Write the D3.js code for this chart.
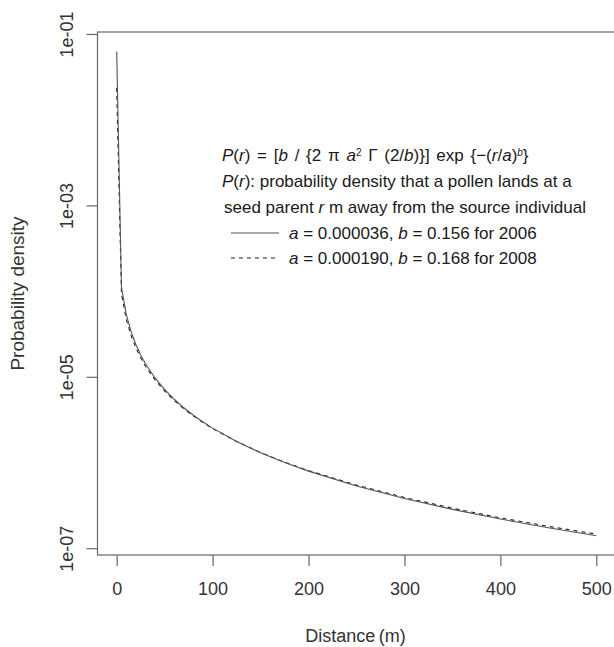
<!DOCTYPE html>
<html lang="en">
<head>
  <meta charset="UTF-8">
  <title>Pollen dispersal kernel</title>
  <script src="https://d3js.org/d3.v7.min.js"></script>
  <style>
    body { margin: 0; background: white; }
    text { font-family: 'Liberation Sans', Arial, sans-serif; fill: #333; }
    .legend text { fill: #1a1a1a; }
  </style>
</head>
<body>
  <svg width="614" height="647"></svg>

  <script>
    // Data (distance in m, probability density)
    const distance = [0, 5, 10, 15, 20, 25, 30, 40, 50, 60, 70, 80, 90, 100,
                      125, 150, 175, 200, 250, 300, 350, 400, 450, 500];
    const dens2006 = [6.26e-2, 1.10e-4, 5.34e-5, 3.37e-5, 2.38e-5, 1.80e-5, 1.42e-5, 9.70e-6,
                      7.11e-6, 5.47e-6, 4.35e-6, 3.56e-6, 2.97e-6, 2.52e-6,
                      1.76e-6, 1.30e-6, 1.00e-6, 7.94e-7, 5.32e-7, 3.80e-7, 2.84e-7, 2.19e-7, 1.73e-7, 1.40e-7];
    const dens2008 = [2.34e-2, 9.29e-5, 4.69e-5, 3.03e-5, 2.18e-5, 1.67e-5, 1.33e-5, 9.19e-6,
                      6.81e-6, 5.29e-6, 4.24e-6, 3.49e-6, 2.92e-6, 2.49e-6,
                      1.76e-6, 1.31e-6, 1.01e-6, 8.05e-7, 5.45e-7, 3.91e-7, 2.93e-7, 2.26e-7, 1.80e-7, 1.46e-7];
    const xTicks = [0, 100, 200, 300, 400, 500];
    const yTicks = [1e-1, 1e-3, 1e-5, 1e-7];
    const yTickLabels = ["1e-01", "1e-03", "1e-05", "1e-07"];

    const svg = d3.select("svg");

    // plot region (box right edge runs just off the picture)
    const pLeft = 97.5, pRight = 615.5, pTop = 32, pBottom = 555;

    const x = d3.scaleLinear().domain([-20, 520]).range([pLeft, pRight]);
    const y = d3.scaleLog().domain([Math.pow(10, -7.079), Math.pow(10, -0.977)]).range([pBottom, pTop]);

    // box
    svg.append("rect")
      .attr("x", pLeft).attr("y", pTop)
      .attr("width", pRight - pLeft).attr("height", pBottom - pTop)
      .attr("fill", "none").attr("stroke", "#666").attr("stroke-width", 1.2);

    // x axis
    const gx = svg.append("g")
      .attr("transform", "translate(0," + pBottom + ")")
      .call(d3.axisBottom(x).tickValues(xTicks).tickSize(11).tickSizeOuter(0).tickPadding(16));
    gx.select(".domain").remove();
    gx.selectAll(".tick line").attr("stroke", "#666").attr("stroke-width", 1.2);
    gx.selectAll(".tick text").style("font-size", "18px").attr("fill", "#333");

    // y axis
    const gy = svg.append("g")
      .attr("transform", "translate(" + pLeft + ",0)")
      .call(d3.axisLeft(y).tickValues(yTicks).tickSize(11).tickSizeOuter(0)
        .tickFormat((d, i) => yTickLabels[i]));
    gy.select(".domain").remove();
    gy.selectAll(".tick line").attr("stroke", "#666").attr("stroke-width", 1.2);
    gy.selectAll(".tick text")
      .attr("x", null).attr("dy", null)
      .attr("text-anchor", "middle")
      .attr("transform", "translate(-25,0) rotate(-90)")
      .style("font-size", "18px").attr("fill", "#333");

    // axis titles
    svg.append("text")
      .attr("x", (pLeft + pRight) / 2 - 1).attr("y", 642)
      .attr("text-anchor", "middle")
      .style("font-size", "18px")
      .text("Distance\u2009(m)");

    svg.append("text")
      .attr("transform", "translate(24," + (pTop + pBottom) / 2 + ") rotate(-90)")
      .attr("text-anchor", "middle")
      .style("font-size", "19px")
      .text("Probability density");

    // curves
    const line = d3.line().x(d => x(d[0])).y(d => y(d[1]));

    svg.append("path")
      .datum(distance.map((r, i) => [r, dens2008[i]]))
      .attr("d", line)
      .attr("fill", "none").attr("stroke", "#222").attr("stroke-width", 1.1)
      .attr("stroke-dasharray", "4,4");

    svg.append("path")
      .datum(distance.map((r, i) => [r, dens2006[i]]))
      .attr("d", line)
      .attr("fill", "none").attr("stroke", "#555").attr("stroke-width", 1.1);

    // legend / formula
    const lg = svg.append("g").attr("class", "legend").style("font-size", "17px");
    const lines = [
      [["P", "i"], ["(", ""], ["r", "i"], [") = [", ""], ["b", "i"], [" / {2 π ", ""], ["a", "i"], ["2", "s"],
       [" Γ (2/", ""], ["b", "i"], [")}] exp {−(", ""], ["r", "i"], ["/", ""], ["a", "i"], [")", ""], ["b", "si"], ["}", ""]],
      [["P", "i"], ["(", ""], ["r", "i"], ["): probability density that a pollen lands at a", ""]],
      [["seed parent ", ""], ["r", "i"], [" m away from the source individual", ""]]
    ];
    const baseY = [161, 187, 213];
    lines.forEach((segs, li) => {
      const t = lg.append("text").attr("x", li === 2 ? 224 : 222).attr("y", baseY[li]);
      if (li === 0) t.attr("word-spacing", "2px");
      segs.forEach(s => {
        const sp = t.append("tspan").text(s[0]);
        if (s[1].includes("i")) sp.style("font-style", "italic");
        if (s[1].includes("s")) sp.attr("baseline-shift", "super").style("font-size", "10px");
      });
    });

    const keys = [
      { year: "2006", a: "0.000036", b: "0.156", dash: null, color: "#555" },
      { year: "2008", a: "0.000190", b: "0.168", dash: "4,4", color: "#222" }
    ];
    keys.forEach((k, i) => {
      const yy = 239 + i * 25;
      lg.append("line")
        .attr("x1", 231).attr("x2", 279)
        .attr("y1", yy - 6).attr("y2", yy - 6)
        .attr("stroke", k.color).attr("stroke-width", 1.1)
        .attr("stroke-dasharray", k.dash);
      const t = lg.append("text").attr("x", 289).attr("y", yy);
      t.append("tspan").style("font-style", "italic").text("a");
      t.append("tspan").text(" = " + k.a + ", ");
      t.append("tspan").style("font-style", "italic").text("b");
      t.append("tspan").text(" = " + k.b + " for " + k.year);
    });
  </script>
</body>
</html>
